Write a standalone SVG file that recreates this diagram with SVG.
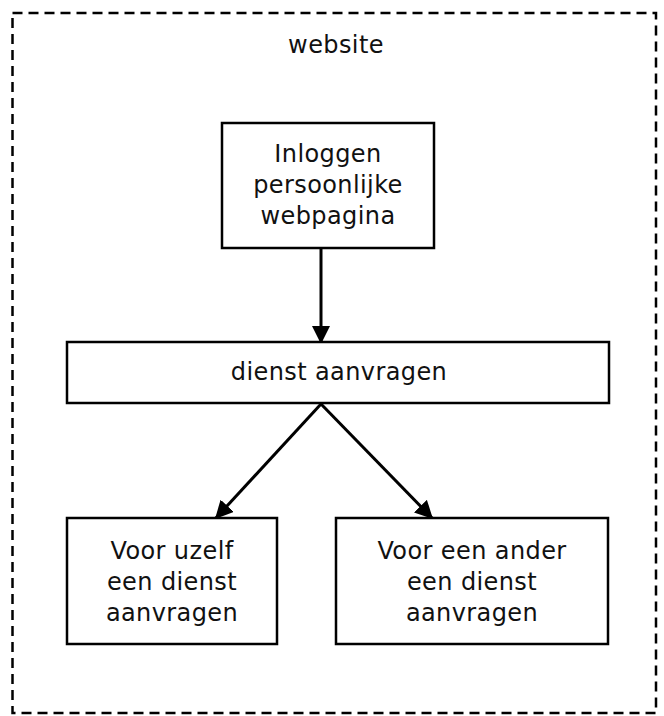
<svg xmlns="http://www.w3.org/2000/svg" width="664" height="716" viewBox="0 0 664 716">
<defs>
<style>
.box{fill:#fff;stroke:#000;stroke-width:2.5}
.t{font-family:"DejaVu Sans",Verdana,sans-serif;font-size:24px;letter-spacing:0.4px;fill:#111;text-anchor:middle}
.c{stroke:#000;stroke-width:3;fill:none}
</style>
<marker id="ah" viewBox="0 0 10 10" refX="10" refY="5" markerWidth="6" markerHeight="6" markerUnits="strokeWidth" orient="auto">
<path d="M0,0 L10,5 L0,10 z" fill="#000"/>
</marker>
</defs>
<rect width="664" height="716" fill="#fff"/>
<g id="website">
<rect x="12.5" y="13" width="643.5" height="700" fill="none" stroke="#000" stroke-width="2.5" stroke-dasharray="10,6"/>
<text class="t" x="336" y="53">website</text>
</g>
<g id="connectors">
<line class="c" x1="321" y1="248" x2="321" y2="344" marker-end="url(#ah)"/>
<line class="c" x1="321" y1="404" x2="215" y2="519" marker-end="url(#ah)"/>
<line class="c" x1="321" y1="404" x2="433" y2="519" marker-end="url(#ah)"/>
</g>
<g id="inloggen">
<rect class="box" x="222" y="123" width="212" height="125"/>
<text class="t"><tspan x="328" y="162">Inloggen</tspan><tspan x="328" y="193">persoonlijke</tspan><tspan x="328" y="224">webpagina</tspan></text>
</g>
<g id="dienst">
<rect class="box" x="67" y="342" width="542" height="61"/>
<text class="t" x="339" y="380">dienst aanvragen</text>
</g>
<g id="uzelf">
<rect class="box" x="67" y="518" width="210" height="126"/>
<text class="t"><tspan x="172" y="559">Voor uzelf</tspan><tspan x="172" y="590">een dienst</tspan><tspan x="172" y="621">aanvragen</tspan></text>
</g>
<g id="ander">
<rect class="box" x="336" y="518" width="272" height="126"/>
<text class="t"><tspan x="472" y="559">Voor een ander</tspan><tspan x="472" y="590">een dienst</tspan><tspan x="472" y="621">aanvragen</tspan></text>
</g>
</svg>
